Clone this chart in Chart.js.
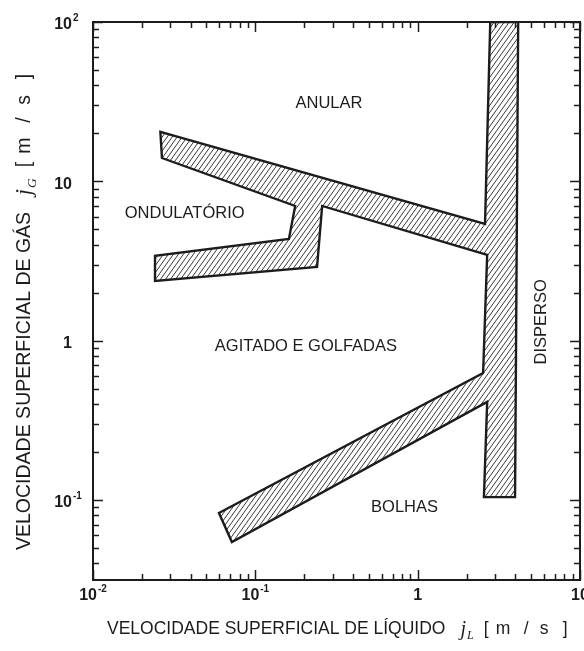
<!DOCTYPE html>
<html>
<head>
<meta charset="utf-8">
<script src="https://cdn.jsdelivr.net/npm/chart.js@4.4.0/dist/chart.umd.min.js"></script>
<style>
  html, body { margin: 0; padding: 0; background: #fff; }
  canvas { display: block; }
</style>
</head>
<body>
<canvas id="mapa" width="584" height="651"></canvas>
<script>
// contorno da faixa de transição (jL, jG em m/s), um único polígono fechado
const bandJL = [2.8, 2.6, 0.026, 0.0266, 0.176, 0.161, 0.0241, 0.0241, 0.240, 0.258, 2.68, 2.53, 0.0597, 0.0717, 2.68, 2.56, 3.98, 4.16, 2.8];
const bandJG = [100, 5.4, 20.4, 14.0, 7.0, 4.34, 3.40, 2.37, 2.90, 7.0, 3.45, 0.626, 0.0828, 0.0544, 0.412, 0.104, 0.104, 100, 100];

// rótulos dos eixos (base + expoente)
const xTicks = [0.01, 0.1, 1, 10];
const xTickBase = ['10', '10', '1', '10'];
const xTickExp = ['-2', '-1', '', ''];
const yTicks = [0.1, 1, 10, 100];
const yTickBase = ['10', '1', '10', '10'];
const yTickExp = ['-1', '', '', '2'];

// nomes dos padrões de escoamento e onde ficam no mapa
const regionNames = ['ANULAR', 'ONDULATÓRIO', 'AGITADO E GOLFADAS', 'BOLHAS', 'DISPERSO'];
const regionJL = [0.284, 0.0367, 0.205, 0.83, 5.76];
const regionJG = [31, 6.32, 0.912, 0.0902, 1.31];

const INK = '#1c1c1c';
const SANS = '"Liberation Sans", Arial, sans-serif';
const SERIF = '"Liberation Serif", "Times New Roman", serif';

function hatch() {
    const w = 5, h = 7;
    const c = document.createElement('canvas');
    c.width = w; c.height = h;
    const g = c.getContext('2d');
    g.fillStyle = '#fff';
    g.fillRect(0, 0, w, h);
    g.strokeStyle = '#3a3a3a';
    g.lineWidth = 1;
    g.beginPath();
    [-w, 0, w].forEach(o => { g.moveTo(o - w, 2 * h); g.lineTo(o + 2 * w, -h); });
    g.stroke();
    return g.createPattern(c, 'repeat');
}

// marcas de escala log (1..9 x 10^d)
function logTicks(min, max) {
    const out = [];
    for (let d = -3; d <= 3; d++) {
        for (let m = 1; m <= 9; m++) {
            const v = m * Math.pow(10, d);
            if (v >= min * 0.999 && v <= max * 1.001) out.push({ v, major: m === 1 });
        }
    }
    return out;
}

const framePlugin = {
    id: 'frame',
    beforeDraw(chart) {
        const c = chart.ctx;
        c.save();
        c.fillStyle = '#fff';
        c.fillRect(0, 0, chart.width, chart.height);
        c.restore();
    },
    afterDraw(chart) {
        const c = chart.ctx;
        const a = chart.chartArea;
        const xs = chart.scales.x, ys = chart.scales.y;
        c.save();
        c.strokeStyle = INK;
        c.lineWidth = 1.5;
        c.beginPath();
        logTicks(xs.min, xs.max).forEach(t => {
            const px = Math.round(xs.getPixelForValue(t.v)) + 0.5;
            const len = t.major ? 10 : 6;
            c.moveTo(px, a.bottom); c.lineTo(px, a.bottom - len);
            c.moveTo(px, a.top); c.lineTo(px, a.top + len);
        });
        logTicks(ys.min, ys.max).forEach(t => {
            const py = Math.round(ys.getPixelForValue(t.v)) + 0.5;
            const len = t.major ? 10 : 6;
            c.moveTo(a.left, py); c.lineTo(a.left + len, py);
            c.moveTo(a.right, py); c.lineTo(a.right - len, py);
        });
        c.stroke();
        c.lineWidth = 2;
        c.strokeRect(a.left, a.top, a.right - a.left, a.bottom - a.top);

        c.fillStyle = INK;
        c.textBaseline = 'middle';
        // eixo x
        xTicks.forEach((v, i) => {
            const px = xs.getPixelForValue(v);
            c.font = 'bold 16px ' + SANS;
            const bw = c.measureText(xTickBase[i]).width;
            c.font = 'bold 10px ' + SANS;
            const ew = xTickExp[i] ? c.measureText(xTickExp[i]).width + 1 : 0;
            const x0 = px - (bw + ew) / 2;
            c.textAlign = 'left';
            c.font = 'bold 16px ' + SANS;
            c.fillText(xTickBase[i], x0, a.bottom + 16);
            if (xTickExp[i]) {
                c.font = 'bold 10px ' + SANS;
                c.fillText(xTickExp[i], x0 + bw + 1, a.bottom + 9);
            }
        });
        // eixo y
        yTicks.forEach((v, i) => {
            const py = ys.getPixelForValue(v) + 3;
            const xr = a.left - 21;
            c.textAlign = 'right';
            c.font = 'bold 16px ' + SANS;
            c.fillText(yTickBase[i], xr, py);
            if (yTickExp[i]) {
                c.textAlign = 'left';
                c.font = 'bold 10px ' + SANS;
                c.fillText(yTickExp[i], xr + 1, py - 7);
            }
        });

        // regiões
        c.font = '16.5px ' + SANS;
        c.textAlign = 'center';
        regionNames.forEach((name, i) => {
            const px = xs.getPixelForValue(regionJL[i]);
            const py = ys.getPixelForValue(regionJG[i]);
            if (name === 'DISPERSO') {
                c.save();
                c.translate(px, py);
                c.rotate(-Math.PI / 2);
                c.fillText(name, 0, 0);
                c.restore();
            } else {
                c.fillText(name, px, py);
            }
        });

        // títulos dos eixos
        c.textBaseline = 'alphabetic';
        c.textAlign = 'left';
        drawTitle(c, 107, 634, 'VELOCIDADE SUPERFICIAL DE LÍQUIDO', 'L', 17.5);
        c.save();
        c.translate(30, 550);
        c.rotate(-Math.PI / 2);
        drawTitle(c, 0, 0, 'VELOCIDADE SUPERFICIAL DE GÁS', 'G', 19.5);
        c.restore();
        c.restore();
    }
};

// título com j itálico, índice e unidade [ m / s ] espaçada
function drawTitle(c, x, y, label, sub, size) {
    const k = size / 17.5;
    c.font = size + 'px ' + SANS;
    c.fillText(label, x, y);
    x += c.measureText(label).width + 15 * k;
    c.font = 'italic ' + (20 * k) + 'px ' + SERIF;
    c.fillText('j', x, y + 1);
    x += c.measureText('j').width + 1;
    c.font = 'italic ' + (12 * k) + 'px ' + SERIF;
    c.fillText(sub, x, y + 5 * k);
    x += c.measureText(sub).width + 10 * k;
    c.font = size + 'px ' + SANS;
    [['[', 0], ['m', 12], ['/', 40], ['s', 56], [']', 79]].forEach(([g, dx]) => {
        c.fillText(g, x + dx * k, y);
    });
}

new Chart(document.getElementById('mapa').getContext('2d'), {
    type: 'scatter',
    data: {
        datasets: [{
            data: bandJL.map((x, i) => ({ x: x, y: bandJG[i] })),
            showLine: true,
            fill: 'shape',
            backgroundColor: hatch(),
            borderColor: INK,
            borderWidth: 2.4,
            pointRadius: 0,
            tension: 0
        }]
    },
    options: {
        responsive: false,
        animation: false,
        devicePixelRatio: 1,
        layout: { padding: { top: 22, right: 4, left: 0, bottom: 0 } },
        plugins: { legend: { display: false }, tooltip: { enabled: false } },
        scales: {
            x: {
                type: 'logarithmic', min: 0.01, max: 10,
                grid: { display: false }, border: { display: false }, ticks: { display: false },
                afterFit: s => { s.height = 71; }
            },
            y: {
                type: 'logarithmic', min: 0.0314, max: 100,
                grid: { display: false }, border: { display: false }, ticks: { display: false },
                afterFit: s => { s.width = 93; }
            }
        }
    },
    plugins: [framePlugin]
});
</script>
</body>
</html>
